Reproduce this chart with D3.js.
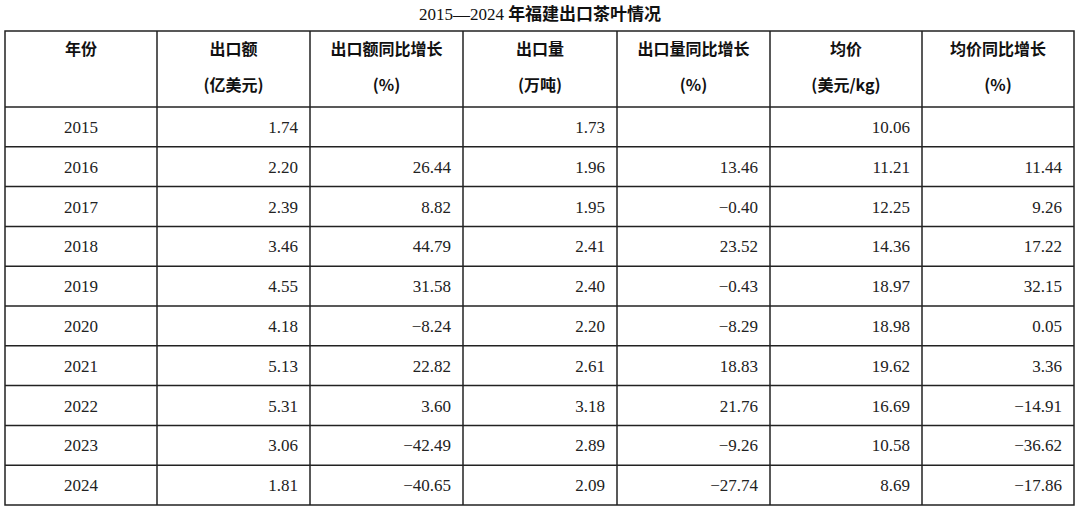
<!DOCTYPE html>
<html><head><meta charset="utf-8">
<script src="https://cdn.jsdelivr.net/npm/d3@7"></script>
<style>body{margin:0;background:#fff}</style>
</head><body><svg id="chart"></svg>
<script>
const years = [2015, 2016, 2017, 2018, 2019, 2020, 2021, 2022, 2023, 2024]
const exportValue = ["1.74", "2.20", "2.39", "3.46", "4.55", "4.18", "5.13", "5.31", "3.06", "1.81"]
const valueYoY = ["", "26.44", "8.82", "44.79", "31.58", "-8.24", "22.82", "3.60", "-42.49", "-40.65"]
const exportVolume = ["1.73", "1.96", "1.95", "2.41", "2.40", "2.20", "2.61", "3.18", "2.89", "2.09"]
const volumeYoY = ["", "13.46", "-0.40", "23.52", "-0.43", "-8.29", "18.83", "21.76", "-9.26", "-27.74"]
const avgPrice = ["10.06", "11.21", "12.25", "14.36", "18.97", "18.98", "19.62", "16.69", "10.58", "8.69"]
const priceYoY = ["", "11.44", "9.26", "17.22", "32.15", "0.05", "3.36", "-14.91", "-36.62", "-17.86"]
const headers = [["年份", ""], ["出口额", "(亿美元)"], ["出口额同比增长", "(%)"], ["出口量", "(万吨)"],
  ["出口量同比增长", "(%)"], ["均价", "(美元/kg)"], ["均价同比增长", "(%)"]]

const width = 1080, height = 510
const svg = d3.select("#chart").attr("width", width).attr("height", height)

const colEdges = [5, 157, 310, 463, 617, 770, 922, 1074]
const tableTop = 31, headH = 76, tableBottom = 505
const rowH = (tableBottom - tableTop - headH) / years.length
const y = d3.scaleBand().domain(years).range([tableTop + headH, tableBottom])

const columns = [years.map(String), exportValue, valueYoY, exportVolume, volumeYoY, avgPrice, priceYoY]

svg.append("text").attr("x", width / 2).attr("y", 20).attr("text-anchor", "middle")
  .attr("font-size", 17).attr("fill", "#111")
  .html('<tspan font-family="Liberation Serif">2015—2024 </tspan><tspan font-family="Noto Sans CJK SC" font-weight="bold">年福建出口茶叶情况</tspan>')

const grid = svg.append("g").attr("stroke", "#222").attr("stroke-width", 1.5)
grid.append("rect").attr("x", colEdges[0]).attr("y", tableTop)
  .attr("width", colEdges[7] - colEdges[0]).attr("height", tableBottom - tableTop).attr("fill", "none")
colEdges.slice(1, -1).forEach(x => grid.append("line").attr("x1", x).attr("x2", x).attr("y1", tableTop).attr("y2", tableBottom))
years.forEach(yr => grid.append("line").attr("x1", colEdges[0]).attr("x2", colEdges[7])
  .attr("y1", y(yr)).attr("y2", y(yr)))

headers.forEach((h, i) => {
  const cx = (colEdges[i] + colEdges[i + 1]) / 2
  h.forEach((t, j) => {
    svg.append("text").attr("x", cx).attr("y", tableTop + 24 + j * 36).attr("text-anchor", "middle")
      .attr("font-family", "Noto Sans CJK SC").attr("font-weight", "bold").attr("font-size", 16)
      .attr("fill", "#111").text(t)
  })
})

columns.forEach((col, i) => {
  col.forEach((v, r) => {
    const yy = y(years[r]) + rowH / 2 + 6
    svg.append("text")
      .attr("x", i === 0 ? (colEdges[0] + colEdges[1]) / 2 : colEdges[i + 1] - 12)
      .attr("y", yy).attr("text-anchor", i === 0 ? "middle" : "end")
      .attr("font-family", "Liberation Serif").attr("font-size", 17).attr("fill", "#222")
      .text(v.replace("-", "−"))
  })
})
</script></body></html>
